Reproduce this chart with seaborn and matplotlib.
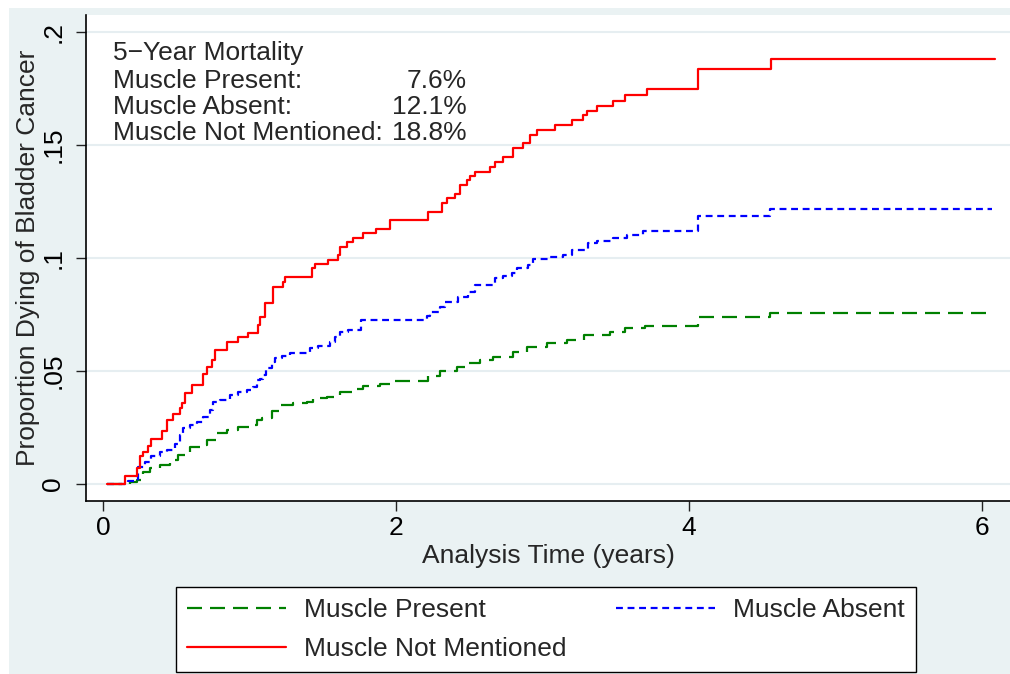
import numpy as np
import pandas as pd
import matplotlib
matplotlib.use("Agg")
import matplotlib.pyplot as plt
import seaborn as sns
from matplotlib.patches import Rectangle

# cumulative incidence (years, proportion)
present_time = [0.03, 0.184, 0.23, 0.27, 0.32, 0.39, 0.457, 0.514, 0.594, 0.662, 0.708, 0.776, 0.844, 0.923,
                1.003, 1.049, 1.083, 1.151, 1.208, 1.299, 1.39, 1.436, 1.527, 1.618, 1.698, 1.777, 1.891, 1.959,
                2.22, 2.30, 2.414, 2.48, 2.573, 2.664, 2.80, 2.892, 3.029, 3.165, 3.28, 3.461, 3.563, 3.70,
                4.06, 4.55, 6.06]
present_prop = [0, 0.0008, 0.0016, 0.0052, 0.0067, 0.0082, 0.0104, 0.0126, 0.0163, 0.0171, 0.0193, 0.0223, 0.0237, 0.0252,
                0.026, 0.0282, 0.029, 0.0319, 0.0348, 0.0356, 0.0363, 0.0378, 0.0385, 0.0407, 0.0418, 0.0433, 0.0441, 0.0455,
                0.0475, 0.0497, 0.0517, 0.0532, 0.0548, 0.0559, 0.0584, 0.0606, 0.0624, 0.0636, 0.0658, 0.0669, 0.0687, 0.0698,
                0.0739, 0.0757, 0.0757]

absent_time = [0.03, 0.17, 0.24, 0.29, 0.33, 0.39, 0.44, 0.49, 0.526, 0.548, 0.594, 0.64, 0.685, 0.73, 0.753, 0.799,
               0.867, 0.924, 0.98, 1.026, 1.048, 1.07, 1.093, 1.115, 1.15, 1.173, 1.22, 1.276, 1.413, 1.47, 1.55,
               1.584, 1.618, 1.675, 1.76, 2.209, 2.232, 2.30, 2.334, 2.425, 2.494, 2.539, 2.676, 2.733, 2.79, 2.824,
               2.903, 2.937, 3.051, 3.142, 3.199, 3.313, 3.37, 3.483, 3.575, 3.688, 4.06, 4.55, 6.07]
absent_prop = [0, 0.001, 0.0074, 0.0096, 0.012, 0.014, 0.0148, 0.0177, 0.0214, 0.0244, 0.0259, 0.0273, 0.0295, 0.0325, 0.0362, 0.037,
               0.0392, 0.0406, 0.0413, 0.0428, 0.0458, 0.0465, 0.048, 0.051, 0.054, 0.0556, 0.0566, 0.0578, 0.060, 0.0608, 0.0625,
               0.065, 0.0672, 0.068, 0.0722, 0.0742, 0.0761, 0.0783, 0.0805, 0.0827, 0.085, 0.0879, 0.0909, 0.0919, 0.0931, 0.0953,
               0.0968, 0.0993, 0.1002, 0.1012, 0.1034, 0.1064, 0.1076, 0.1086, 0.1101, 0.1117, 0.1185, 0.1215, 0.1215]

notmentioned_time = [0.03, 0.15, 0.23, 0.25, 0.275, 0.31, 0.33, 0.40, 0.44, 0.475, 0.525, 0.537, 0.56, 0.605, 0.685,
                     0.707, 0.742, 0.765, 0.844, 0.924, 0.992, 1.06, 1.072, 1.106, 1.163, 1.23, 1.242, 1.425, 1.447,
                     1.538, 1.607, 1.618, 1.663, 1.709, 1.777, 1.865, 1.959, 2.22, 2.312, 2.346, 2.403, 2.437, 2.482,
                     2.505, 2.539, 2.642, 2.676, 2.732, 2.80, 2.869, 2.915, 2.96, 3.085, 3.199, 3.279, 3.306, 3.37,
                     3.483, 3.563, 3.711, 4.06, 4.56, 6.09]
notmentioned_prop = [0, 0.0035, 0.0068, 0.012, 0.014, 0.0164, 0.0195, 0.0234, 0.028, 0.031, 0.0335, 0.0355, 0.040, 0.0437, 0.0487,
                     0.0517, 0.0546, 0.059, 0.0628, 0.0647, 0.0665, 0.070, 0.0739, 0.0798, 0.0872, 0.0894, 0.0913, 0.0953, 0.0972,
                     0.099, 0.1012, 0.1049, 0.1071, 0.1086, 0.1108, 0.1126, 0.1167, 0.1204, 0.1241, 0.1263, 0.1282, 0.1322, 0.1344,
                     0.1362, 0.1381, 0.1403, 0.1423, 0.1445, 0.1485, 0.1507, 0.1544, 0.1566, 0.1588, 0.161, 0.1632, 0.1651, 0.1674,
                     0.1696, 0.1721, 0.1746, 0.1835, 0.1879, 0.1879]

y_ticks = [0, 0.05, 0.1, 0.15, 0.2]
y_ticklabels = ['0', '.05', '.1', '.15', '.2']
x_ticks = [0, 2, 4, 6]

box_title = '5\u2212Year Mortality'
box_labels = ['Muscle Present:', 'Muscle Absent:', 'Muscle Not Mentioned:']
box_values = ['7.6%', '12.1%', '18.8%']

sns.set_style('ticks')
plt.rcParams['font.family'] = ['Liberation Sans', 'DejaVu Sans']
fs = 19

fig = plt.figure(figsize=(10.1, 6.74), dpi=100)
fig.patch.set_facecolor('white')
# stata-like graph region
fig.add_artist(Rectangle((9 / 1010, 0), 1 - 9 / 1010, 1 - 8 / 674, transform=fig.transFigure,
                         facecolor='#EAF2F3', edgecolor='none', zorder=-10))

ax = fig.add_axes([86 / 1010, 173 / 674, 924 / 1010, 486 / 674])
ax.set_facecolor('white')

sns.lineplot(x=present_time, y=present_prop, ax=ax, color='#008000', lw=1.6,
             linestyle=(0, (6.75, 3.6)), drawstyle='steps-post', estimator=None,
             label='Muscle Present', legend=False)
sns.lineplot(x=absent_time, y=absent_prop, ax=ax, color='#0000FF', lw=1.6,
             linestyle=(0, (3.1, 2.1)), drawstyle='steps-post', estimator=None,
             label='Muscle Absent', legend=False)
sns.lineplot(x=notmentioned_time, y=notmentioned_prop, ax=ax, color='#FF0000', lw=1.6,
             drawstyle='steps-post', estimator=None,
             label='Muscle Not Mentioned', legend=False)

ax.set_xlim(-0.116, 6.19)
ax.set_ylim(-0.00775, 0.2075)
ax.set_xticks(x_ticks)
ax.set_xticklabels([str(v) for v in x_ticks])
ax.set_yticks(y_ticks)
ax.set_yticklabels(y_ticklabels, rotation=90, va='center')
ax.tick_params(axis='both', length=7, width=1, color='#222222', labelsize=fs, labelcolor='black')
ax.tick_params(axis='x', pad=4)
ax.tick_params(axis='y', pad=8)

ax.yaxis.grid(True, color='#E6EEF1', lw=1.5)
ax.xaxis.grid(False)
ax.set_axisbelow(True)

for side in ['top', 'right']:
    ax.spines[side].set_visible(False)
for side in ['left', 'bottom']:
    ax.spines[side].set_color('black')
    ax.spines[side].set_linewidth(1.2)

ax.set_xlabel('Analysis Time (years)', fontsize=fs)
ax.set_ylabel('Proportion Dying of Bladder Cancer', fontsize=fs)
ax.xaxis.set_label_coords(0.5, -0.088)
ax.yaxis.set_label_coords(-0.05, 0.5)

# mortality text box
ax.text(0.0292, 0.9074, box_title, transform=ax.transAxes, fontsize=fs, ha='left', va='baseline')
for i, (lab, val) in enumerate(zip(box_labels, box_values)):
    yy = [0.8498, 0.7963, 0.7428][i]
    ax.text(0.0292, yy, lab, transform=ax.transAxes, fontsize=fs, ha='left', va='baseline')
    ax.text(0.4123, yy, val, transform=ax.transAxes, fontsize=fs, ha='right', va='baseline')

# legend below, filled row-wise like stata
handles, labels = ax.get_legend_handles_labels()
order = [0, 2, 1]
leg = fig.legend([handles[i] for i in order], [labels[i] for i in order], ncol=2,
                 loc='lower center', bbox_to_anchor=(546 / 1010, 2 / 674), fontsize=fs,
                 frameon=True, fancybox=False, framealpha=1, edgecolor='black',
                 borderpad=0.42, handlelength=3.75, handletextpad=0.68, columnspacing=1.9,
                 labelspacing=0.56, borderaxespad=0)
leg.get_frame().set_linewidth(1.0)

fig.savefig('out.png', dpi=100)
